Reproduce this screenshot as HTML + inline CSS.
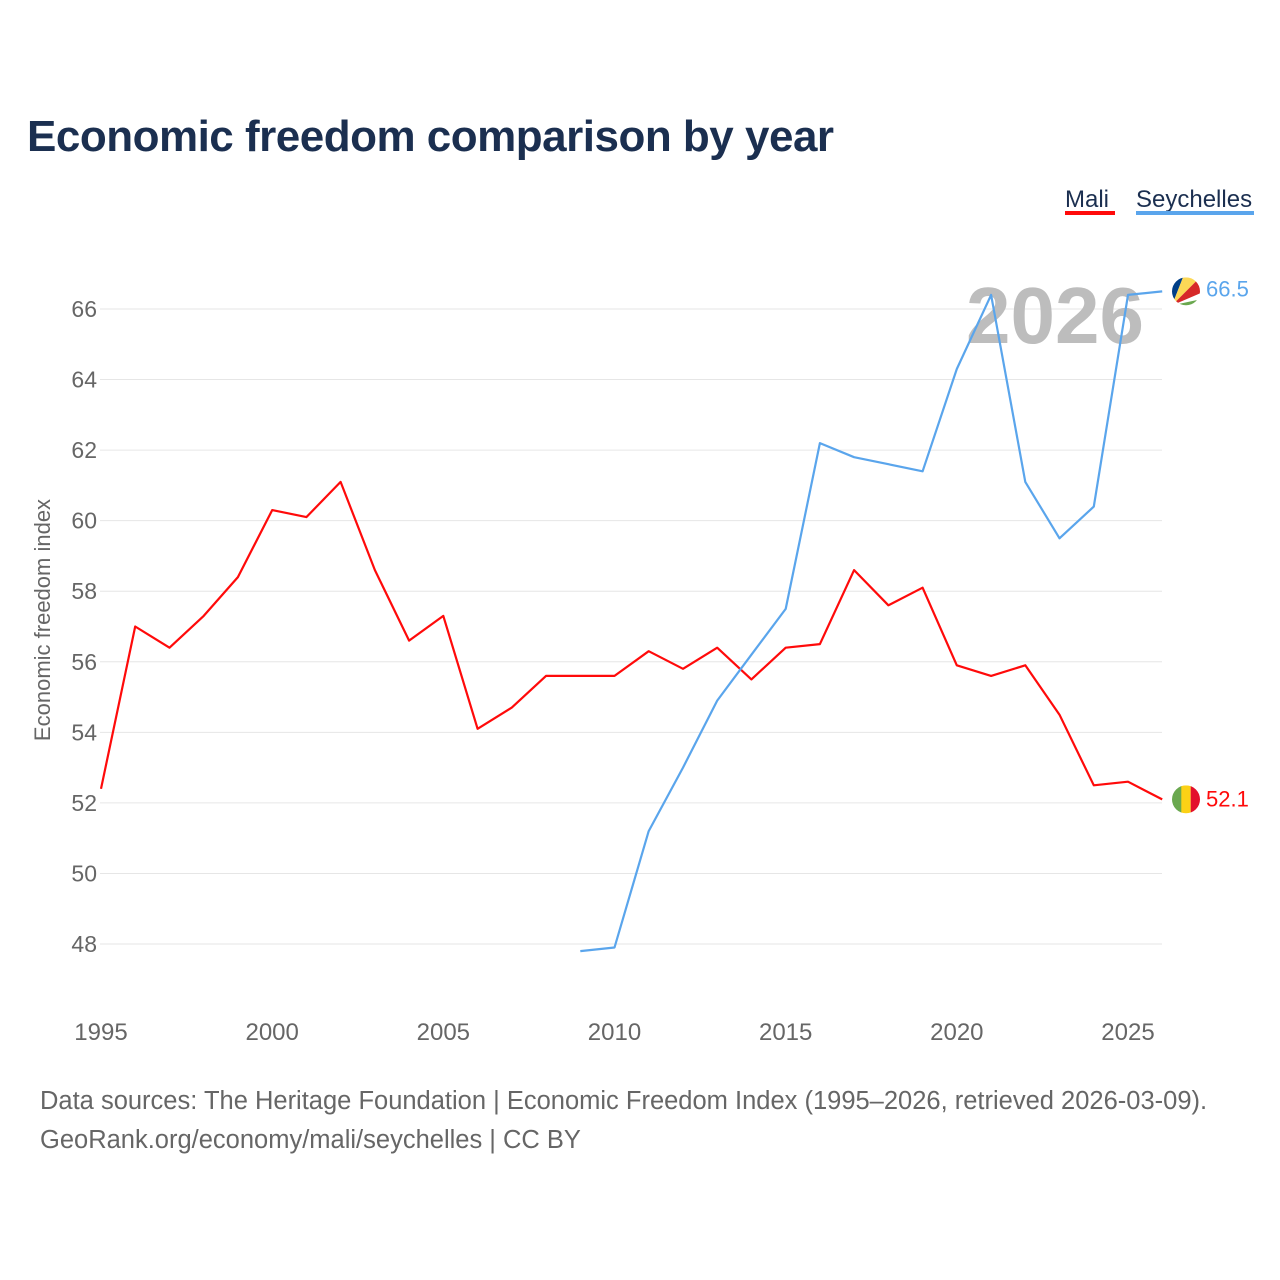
<!DOCTYPE html>
<html><head><meta charset="utf-8">
<style>
html,body{margin:0;padding:0;background:#fff;}
body{width:1280px;height:1280px;position:relative;font-family:"Liberation Sans",sans-serif;overflow:hidden;}
#title{position:absolute;left:27px;top:112px;font-size:44px;font-weight:bold;color:#1b2f50;margin:0;letter-spacing:-0.5px;}
.src{position:absolute;left:40px;font-size:25.5px;color:#666;}
</style></head><body>
<h1 id="title">Economic freedom comparison by year</h1>
<svg id="chart" width="1280" height="1080" style="position:absolute;left:0;top:0" xmlns="http://www.w3.org/2000/svg"></svg>
<div class="src" style="top:1087px">Data sources: The Heritage Foundation | Economic Freedom Index (1995–2026, retrieved 2026-03-09).</div>
<div class="src" style="top:1126px">GeoRank.org/economy/mali/seychelles | CC BY</div>
<script>
const years=[1995,1996,1997,1998,1999,2000,2001,2002,2003,2004,2005,2006,2007,2008,2009,2010,2011,2012,2013,2014,2015,2016,2017,2018,2019,2020,2021,2022,2023,2024,2025,2026];
const mali=[52.4,57.0,56.4,57.3,58.4,60.3,60.1,61.1,58.6,56.6,57.3,54.1,54.7,55.6,55.6,55.6,56.3,55.8,56.4,55.5,56.4,56.5,58.6,57.6,58.1,55.9,55.6,55.9,54.5,52.5,52.6,52.1];
const seychelles=[null,null,null,null,null,null,null,null,null,null,null,null,null,null,47.8,47.9,51.2,53.0,54.9,56.2,57.5,62.2,61.8,61.6,61.4,64.3,66.4,61.1,59.5,60.4,66.4,66.5];
const yTicks=[48,50,52,54,56,58,60,62,64,66];
const xTicks=[1995,2000,2005,2010,2015,2020,2025];
const NS="http://www.w3.org/2000/svg";
const svg=document.getElementById('chart');
const x=v=>101+(v-1995)*(1128-101)/30;
const y=v=>309+(66-v)*(944-309)/18;
function el(t,a,p){const e=document.createElementNS(NS,t);for(const k in a)e.setAttribute(k,a[k]);(p||svg).appendChild(e);return e;}
yTicks.forEach(t=>{
  const g=el('line',{x1:100,x2:1162,y1:y(t),y2:y(t),stroke:'#e6e6e6','stroke-width':1});
  
  
  const l=el('text',{x:97,y:y(t)+8,'text-anchor':'end','font-size':23,fill:'#666'});l.textContent=t;
  
  
});
xTicks.forEach(t=>{
  const l=el('text',{x:x(t),y:1040,'text-anchor':'middle','font-size':24,fill:'#666'});l.textContent=t;
  
  
});
const yt=el('text',{x:0,y:0,transform:'translate(50,620) rotate(-90)','text-anchor':'middle','font-size':22,fill:'#666'});yt.textContent='Economic freedom index';


const wm=el('text',{x:1055,y:343,'text-anchor':'middle','font-size':80,'font-weight':'bold',fill:'#bdbdbd'});wm.textContent='2026';


function line(data,color,name){
  let d='';data.forEach((v,i)=>{if(v==null)return;d+=(d?'L':'M')+x(years[i]).toFixed(1)+','+y(v).toFixed(1);});
  const p=el('path',{d:d,fill:'none',stroke:color,'stroke-width':2.2,'stroke-linejoin':'round'});
  
  
}
line(mali,'#ff0a0a','mali');
line(seychelles,'#5aa5ec','seychelles');
const ml=mali[mali.length-1], sl=seychelles[seychelles.length-1];
const mg=el('g',{});


const cx=1186, my=y(ml);
el('clipPath',{id:'cm'},mg); el('circle',{cx:cx,cy:my,r:14},mg.lastChild);
const mg2=el('g',{'clip-path':'url(#cm)'},mg);
el('rect',{x:cx-14,y:my-14,width:10,height:28,fill:'#6aa84f'},mg2);
el('rect',{x:cx-4.7,y:my-14,width:9.4,height:28,fill:'#fcd116'},mg2);
el('rect',{x:cx+4.7,y:my-14,width:10,height:28,fill:'#e3102c'},mg2);
const mt=el('text',{x:1206,y:my+7,'font-size':22,fill:'#ff0a0a'});mt.textContent=ml.toFixed(1);


const sg=el('g',{});


const sy=y(sl);
el('clipPath',{id:'cs'},sg); el('circle',{cx:cx,cy:sy,r:14},sg.lastChild);
const sg2=el('g',{'clip-path':'url(#cs)'},sg);
el('rect',{x:cx-14,y:sy-14,width:28,height:28,fill:'#fff'},sg2);
el('polygon',{points:`${cx-14},${sy+14} ${cx-14},${sy-14} ${cx-3},${sy-14}`,fill:'#003f87'},sg2);
el('polygon',{points:`${cx-14},${sy+14} ${cx-3},${sy-14} ${cx+14},${sy-14}`,fill:'#fcd856'},sg2);
el('polygon',{points:`${cx-14},${sy+14} ${cx+14},${sy-14} ${cx+14},${sy+2}`,fill:'#d62828'},sg2);
el('polygon',{points:`${cx-14},${sy+14} ${cx+14},${sy+8} ${cx+14},${sy+14}`,fill:'#6aa84f'},sg2);
const st=el('text',{x:1206,y:sy+5,'font-size':22,fill:'#5aa5ec'});st.textContent=sl.toFixed(1);


const l1=el('text',{x:1065,y:207,'font-size':24,fill:'#1b2f50'});l1.textContent='Mali';


const r1=el('rect',{x:1065,y:211,width:50,height:4,fill:'#ff0a0a'});


const l2=el('text',{x:1136,y:207,'font-size':24,fill:'#1b2f50'});l2.textContent='Seychelles';


const r2=el('rect',{x:1136,y:211,width:118,height:4,fill:'#5aa5ec'});


</script>
</body></html>
